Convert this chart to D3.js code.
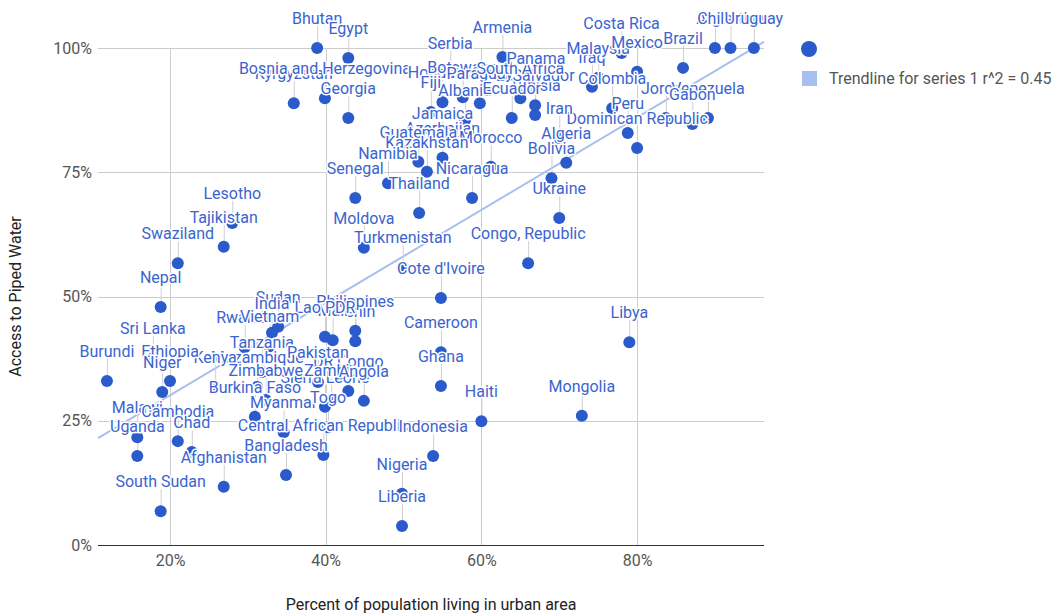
<!DOCTYPE html>
<html>
<head>
<meta charset="utf-8">
<script src="https://cdn.jsdelivr.net/npm/d3@7"></script>
<style>
  html, body { margin: 0; padding: 0; background: #fff; }
  svg { display: block; font-family: Roboto, "Noto Sans", sans-serif; }
</style>
</head>
<body>
<svg id="chart" width="1060" height="614"></svg>
<script>
// ---- data (draw order = label stacking order) ----
const countries = ["Argentina","Chile","Uruguay","Brazil","Costa Rica","Iraq","Malaysia","Mexico","Colombia","Peru","Jordan","Venezuela","Gabon","Dominican Republic","Bhutan","Egypt","Kyrgyzstan","Bosnia and Herzegovina","Georgia","Armenia","Serbia","Tunisia","Honduras","Botswana","El Salvador","Paraguay","South Africa","Panama","Fiji","Albania","Ecuador","Iran","Azerbaijan","Jamaica","Morocco","Guatemala","Kazakhstan","Namibia","Algeria","Bolivia","Senegal","Nicaragua","Thailand","Ukraine","Lesotho","Tajikistan","Swaziland","Moldova","Turkmenistan","Congo, Republic","Cote d'Ivoire","Nepal","Libya","Benin","Mali","Sudan","India","Philippines","Lao PDR","Rwanda","Vietnam","Cameroon","Sri Lanka","Sierra Leone","DR Congo","Tanzania","Mozambique","Kenya","Pakistan","Burundi","Ethiopia","Niger","Ghana","Zambia","Angola","Zimbabwe","Burkina Faso","Myanmar","Togo","Haiti","Mongolia","Malawi","Cambodia","Chad","Uganda","Central African Republic","Indonesia","Bangladesh","Afghanistan","Nigeria","Liberia","South Sudan"];
const urban = [92.0,90.0,95.0,85.9,78.0,74.2,75.0,80.0,76.8,78.8,83.7,89.1,87.1,80.0,38.9,42.9,35.9,39.9,42.9,62.7,56.0,66.9,55.0,57.6,66.9,59.8,65.0,67.0,53.5,57.9,63.9,70.0,55.0,55.0,61.2,51.9,53.0,48.0,70.9,69.0,43.8,58.8,52.0,70.0,28.0,26.9,21.0,44.9,49.9,66.0,54.8,18.8,79.0,43.8,40.9,33.9,33.1,43.8,39.9,29.6,32.8,54.8,17.8,39.9,42.9,31.8,31.2,25.8,39.0,11.9,20.0,19.0,54.8,40.7,44.9,32.3,30.9,34.6,40.3,60.0,72.9,15.8,21.0,22.8,15.8,39.7,53.8,34.9,26.9,49.8,49.8,18.8];
const water = [100,100,100,96.0,99.0,92.2,94.0,95.2,87.9,82.9,85.9,85.9,84.7,79.9,100,98.0,88.9,89.9,85.9,98.2,95.0,86.5,89.1,90.1,88.5,88.9,89.9,92.0,87.1,85.5,85.9,81.9,77.9,80.9,76.1,77.1,75.1,72.8,76.9,73.8,69.8,69.8,66.8,65.8,64.8,60.0,56.7,59.8,55.9,56.7,49.7,47.9,40.8,41.0,41.2,43.9,42.7,43.1,41.9,39.8,40.0,38.8,37.6,27.8,31.0,34.8,31.8,31.8,32.8,33.0,33.0,30.8,32.0,29.2,29.0,29.2,25.8,22.7,23.7,24.9,26.0,21.7,20.9,18.7,17.9,18.1,17.9,14.1,11.7,10.3,3.8,6.8];
const xTicks = [20, 40, 60, 80];
const yTicks = [0, 25, 50, 75, 100];
const xTitle = "Percent of population living in urban area";
const yTitle = "Access to Piped Water";
const legendTrend = "Trendline for series 1 r^2 = 0.45";

// ---- layout ----
const svg = d3.select("#chart");
const pL = 98, pR = 764, pT = 48, pB = 545;
const x = d3.scaleLinear().domain([10.75, 96.3]).range([pL, pR]);
const y = d3.scaleLinear().domain([0, 100]).range([pB, pT]);
const dotColor = "#2a5acb";
const trendColor = "#a7bfee";
const fs = 16;

svg.append("rect").attr("width", 1060).attr("height", 614).attr("fill", "#fff");

// gridlines
const grid = svg.append("g");
grid.selectAll(".hg").data(yTicks.filter(d => d !== 0)).join("line")
  .attr("x1", pL).attr("x2", pR)
  .attr("y1", d => Math.round(y(d)) + 0.5).attr("y2", d => Math.round(y(d)) + 0.5)
  .attr("stroke", "#cccccc").attr("stroke-width", 1);
grid.selectAll(".vg").data(xTicks).join("line")
  .attr("y1", pT).attr("y2", pB)
  .attr("x1", d => Math.round(x(d)) + 0.5).attr("x2", d => Math.round(x(d)) + 0.5)
  .attr("stroke", "#cccccc").attr("stroke-width", 1);

// axes (labels only)
const yAxis = d3.axisLeft(y).tickValues(yTicks).tickFormat(d => d + "%").tickSize(0).tickPadding(6);
const yg = svg.append("g").attr("transform", `translate(${pL},0)`).call(yAxis);
yg.select(".domain").remove();
yg.selectAll("text").attr("font-size", fs).attr("fill", "#555").attr("font-family", "Roboto");

const xAxis = d3.axisBottom(x).tickValues(xTicks).tickFormat(d => d + "%").tickSize(0).tickPadding(10);
const xg = svg.append("g").attr("transform", `translate(0,${pB})`).call(xAxis);
xg.select(".domain").remove();
xg.selectAll("text").attr("font-size", fs).attr("fill", "#555").attr("font-family", "Roboto");

// baseline
svg.append("line").attr("x1", pL).attr("x2", pR)
  .attr("y1", Math.round(y(0)) + 0.5).attr("y2", Math.round(y(0)) + 0.5)
  .attr("stroke", "#333").attr("stroke-width", 1);

// titles
svg.append("text").attr("x", 431).attr("y", 610)
  .attr("text-anchor", "middle").attr("font-size", fs).attr("fill", "#222").text(xTitle);
svg.append("text").attr("transform", `translate(21,${(pT + pB) / 2}) rotate(-90)`)
  .attr("text-anchor", "middle").attr("font-size", fs).attr("fill", "#222").text(yTitle);

// data rows
const rows = countries.map((c, i) => ({ name: c, u: urban[i], w: water[i] }));

// trendline (least squares)
const mx = d3.mean(rows, d => d.u), my = d3.mean(rows, d => d.w);
const slope = d3.sum(rows, d => (d.u - mx) * (d.w - my)) / d3.sum(rows, d => (d.u - mx) ** 2);
const icpt = my - slope * mx;
const tx = x.domain();
svg.append("line")
  .attr("x1", x(tx[0])).attr("y1", y(icpt + slope * tx[0]))
  .attr("x2", x(tx[1])).attr("y2", y(icpt + slope * tx[1]))
  .attr("stroke", trendColor).attr("stroke-width", 2);

// stems
svg.append("g").selectAll("line").data(rows).join("line")
  .attr("x1", d => x(d.u) + 0.5).attr("x2", d => x(d.u) + 0.5)
  .attr("y1", d => y(d.w) - 4).attr("y2", d => y(d.w) - 22)
  .attr("stroke", "#cfcfcf").attr("stroke-width", 1);

// points
svg.append("g").selectAll("circle").data(rows).join("circle")
  .attr("cx", d => x(d.u)).attr("cy", d => y(d.w)).attr("r", 6)
  .attr("fill", dotColor);

// labels with white aura
svg.append("g").selectAll("text").data(rows).join("text")
  .attr("x", d => x(d.u)).attr("y", d => y(d.w) - 24)
  .attr("text-anchor", "middle").attr("font-size", fs)
  .attr("fill", "#3a64cf").attr("stroke", "#fff").attr("stroke-width", 3)
  .attr("stroke-linejoin", "round").attr("paint-order", "stroke")
  .text(d => d.name);

// legend
const lg = svg.append("g");
lg.append("circle").attr("cx", 809).attr("cy", 49).attr("r", 8).attr("fill", dotColor);
lg.append("rect").attr("x", 802).attr("y", 71).attr("width", 15).attr("height", 15).attr("fill", trendColor);
lg.append("text").attr("x", 829).attr("y", 84).attr("font-size", fs).attr("fill", "#555").text(legendTrend);
</script>
</body>
</html>
